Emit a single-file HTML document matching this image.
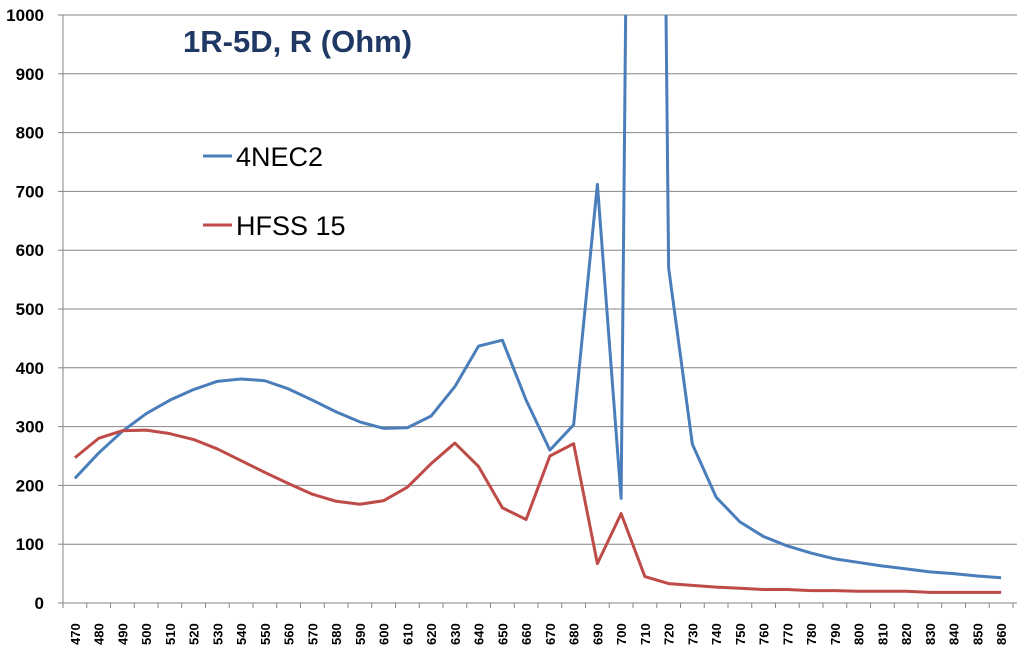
<!DOCTYPE html>
<html><head><meta charset="utf-8"><style>
body{margin:0;background:#fff;}
svg{display:block;font-family:"Liberation Sans",sans-serif;}
</style></head><body>
<svg id="chart" width="1021" height="655" viewBox="0 0 1021 655">
<defs><clipPath id="plotclip"><rect x="63" y="15" width="955" height="590"/></clipPath></defs>
<g id="grid"></g><g id="axes"></g>
<g id="series" clip-path="url(#plotclip)"></g>
<text x="183" y="52" font-size="31" font-weight="bold" fill="#1f3864">1R-5D, R (Ohm)</text>
<g><line x1="203" y1="156" x2="232" y2="156" stroke="#4a7ebb" stroke-width="3"/><text x="236" y="166" font-size="27" fill="#000">4NEC2</text></g>
<g><line x1="203" y1="225" x2="232" y2="225" stroke="#be4b48" stroke-width="3"/><text x="236" y="235" font-size="27" fill="#000">HFSS 15</text></g>
</svg>
<script>
const categories=[470,480,490,500,510,520,530,540,550,560,570,580,590,600,610,620,630,640,650,660,670,680,690,700,710,720,730,740,750,760,770,780,790,800,810,820,830,840,850,860];
const nec2=[212,255,292,322,345,363,377,381,378,364,345,325,308,297,298,318,368,437,447,345,260,303,712,178,4500,570,270,180,138,113,97,85,75,69,63,58,53,50,46,43];
const hfss=[247,280,293,294,288,278,262,242,222,203,185,173,168,174,197,237,272,232,162,142,250,271,67,152,45,33,30,27,25,23,23,21,21,20,20,20,18,18,18,18];
const yTicks=[0,100,200,300,400,500,600,700,800,900,1000];
const NS="http://www.w3.org/2000/svg";
const L=63,R=1013,T=15,B=603;
const step=(R-L)/categories.length;
const xs=i=>L+step*(i+0.5);
const ys=v=>B-(v/1000)*(B-T);
const grid=document.getElementById('grid'),axes=document.getElementById('axes'),ser=document.getElementById('series');
function mk(tag,attrs,parent){const e=document.createElementNS(NS,tag);for(const k in attrs)e.setAttribute(k,attrs[k]);parent.appendChild(e);return e;}
yTicks.forEach(v=>{
 const y=ys(v);
 if(v>0){const g=mk('line',{x1:L,x2:R+4,y1:y,y2:y,stroke:'#868686','stroke-width':1},grid);
 
 }
 mk('line',{x1:L-5,x2:L,y1:y,y2:y,stroke:'#868686'},axes);
 const t=mk('text',{x:44,y:y+6,'text-anchor':'end','font-size':17,'font-weight':'bold',fill:'#000'},axes);
 t.textContent=v;
 
 
});
mk('line',{x1:L,x2:L,y1:T,y2:B,stroke:'#868686'},axes);
mk('line',{x1:L,x2:R+4,y1:B,y2:B,stroke:'#868686'},axes);
categories.forEach((c,i)=>{
 const xt=L+step*i;
 mk('line',{x1:xt,x2:xt,y1:B,y2:B+5,stroke:'#868686'},axes);
 const x=xs(i);
 const t=mk('text',{x:0,y:0,transform:`translate(${x+5},${B+42}) rotate(-90)`,'font-size':13,'font-weight':'bold',fill:'#000'},axes);
 t.textContent=c;
 
 
});
mk('line',{x1:R,x2:R,y1:B,y2:B+5,stroke:'#868686'},axes);
function line(data,color,name){
 const p=mk('polyline',{points:data.map((v,i)=>xs(i)+','+ys(v)).join(' '),fill:'none',stroke:color,'stroke-width':3,'stroke-linejoin':'round'},ser);
 
 
}
line(nec2,'#4a7ebb','series-4nec2');
line(hfss,'#be4b48','series-hfss15');
</script>
</body></html>
